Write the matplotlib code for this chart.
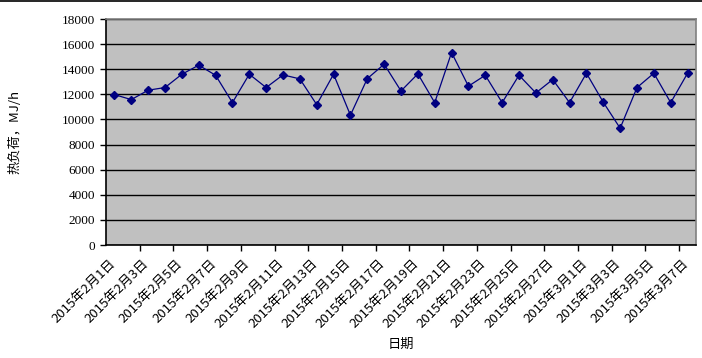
import matplotlib
matplotlib.use("Agg")
import matplotlib.pyplot as plt
from matplotlib.lines import Line2D
from matplotlib.transforms import ScaledTranslation
import numpy as np

# %% DATA
dates = ["2015年2月%d日" % d for d in range(1, 29)] + ["2015年3月%d日" % d for d in range(1, 8)]
heat_load = [11980, 11580, 12330, 12540, 13600, 14320, 13520, 11340, 13600, 12540,
             13550, 13230, 11180, 13600, 10340, 13250, 14400, 12270, 13630, 11340,
             15330, 12650, 13520, 11340, 13520, 12110, 13180, 11340, 13680, 11370,
             9300, 12540, 13680, 11340, 13680]
y_ticks = list(range(0, 18001, 2000))

# %% FIGURE
fig = plt.figure(figsize=(7.02, 3.58), dpi=100)
ax = fig.add_axes([106 / 702, 1 - 245 / 358, 590 / 702, 226 / 358])
ax.set_facecolor("#C0C0C0")

x = np.arange(len(dates))
ax.plot(x, heat_load, color="#000080", lw=0.9, marker="D", ms=3.6,
        mfc="#000080", mec="#000080", zorder=3)

ax.set_xlim(-0.5, len(dates) - 0.5)
ax.set_ylim(0, 18000)
ax.set_yticks(y_ticks)
ax.set_yticklabels([str(v) for v in y_ticks], family="Liberation Serif", fontsize=9.5)
ax.yaxis.grid(True, color="black", lw=1.0)
ax.set_axisbelow(True)

# x tick marks between categories every 2, labels every 2 categories
ax.set_xticks(np.arange(1.5, len(dates) - 0.5, 2))
ax.set_xticklabels([])
ax.set_xticks(x[::2], minor=True)
ax.set_xticklabels(dates[::2], minor=True, rotation=45, ha="right", va="top",
                   rotation_mode="anchor", family=["Noto Sans CJK SC", "DejaVu Sans"],
                   fontsize=9.5)
ax.tick_params(axis="x", which="minor", length=0, pad=4)
ax.tick_params(axis="x", which="major", length=4, width=1, color="black")
ax.tick_params(axis="y", length=4, width=1, color="black", pad=4)

# nudge date labels left/down like the original
shift = ScaledTranslation(-6 / 100, -6 / 100, fig.dpi_scale_trans)
for lbl in ax.get_xticklabels(minor=True):
    lbl.set_transform(lbl.get_transform() + shift)

for side in ["top", "right"]:
    ax.spines[side].set_color("#808080")
    ax.spines[side].set_linewidth(1.2)
for side in ["left", "bottom"]:
    ax.spines[side].set_color("black")
    ax.spines[side].set_linewidth(1.2)

ax.set_ylabel("热负荷，MJ/h", family=["Noto Sans CJK SC", "DejaVu Sans"], fontsize=9.5)
ax.yaxis.set_label_coords(-0.144, 0.5)
fig.text(401 / 702, 1 - 344 / 358, "日期", family=["Noto Sans CJK SC", "DejaVu Sans"],
         fontsize=9.5, ha="center", va="center")

# chart border line at top
fig.add_artist(Line2D([0, 1], [0.998, 0.998], color="black", lw=1.2,
                      transform=fig.transFigure))

fig.savefig("out.png", dpi=100)
